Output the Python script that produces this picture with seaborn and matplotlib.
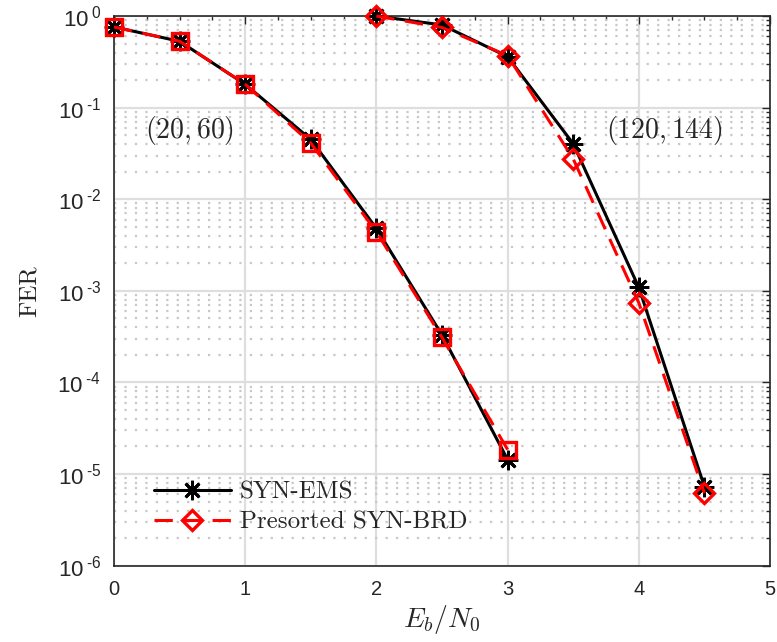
import numpy as np
import pandas as pd
import seaborn as sns
import matplotlib.pyplot as plt
from matplotlib.ticker import FixedLocator, FuncFormatter, NullFormatter
from matplotlib.lines import Line2D

# data
snr_short = [0, 0.5, 1, 1.5, 2, 2.5, 3]
ems_short = [0.76, 0.53, 0.18, 0.045, 0.0048, 3.3e-4, 1.44e-5]
brd_short = [0.76, 0.53, 0.18, 0.041, 0.0044, 3.1e-4, 1.85e-5]

snr_long = [2, 2.5, 3, 3.5, 4, 4.5]
ems_long = [1.0, 0.8, 0.36, 0.0404, 1.09e-3, 7.3e-6]
brd_long = [1.0, 0.75, 0.37, 0.0276, 7.4e-4, 6.2e-6]

sns.set_style("white")
plt.rcParams['mathtext.fontset'] = 'custom'
plt.rcParams['mathtext.rm'] = 'cmr10'
plt.rcParams['mathtext.it'] = 'cmmi10'
plt.rcParams['mathtext.sf'] = 'Liberation Sans'
plt.rcParams['font.family'] = ['Liberation Sans', 'DejaVu Sans']

fig, ax = plt.subplots(figsize=(7.77, 6.42), dpi=100)
fig.subplots_adjust(left=0.1467, right=0.991, bottom=0.1189, top=0.975)

ems_style = dict(color='black', linestyle='-', linewidth=2.2, marker=(8, 2, 0),
                 markersize=14, markeredgewidth=2.0, markeredgecolor='black',
                 clip_on=False, zorder=4)
brd_sq = dict(color='red', linestyle=(0, (6, 3.5)), linewidth=2.2, marker='s',
              markersize=11, markerfacecolor='none', markeredgecolor='red',
              markeredgewidth=2.4, clip_on=False, zorder=5)
brd_dm = dict(brd_sq, marker='D', markersize=10)

sns.lineplot(x=snr_short, y=ems_short, ax=ax, **ems_style)
sns.lineplot(x=snr_short, y=brd_short, ax=ax, **brd_sq)
sns.lineplot(x=snr_long, y=ems_long, ax=ax, **ems_style)
sns.lineplot(x=snr_long, y=brd_long, ax=ax, **brd_dm)

ax.set_yscale('log')
ax.set_xlim(0, 5)
ax.set_ylim(1e-6, 1)

ax.xaxis.set_major_locator(FixedLocator([0, 1, 2, 3, 4, 5]))
ax.xaxis.set_minor_locator(FixedLocator(np.arange(0, 5.01, 0.25)))
ax.yaxis.set_major_locator(FixedLocator([10.0**k for k in range(-6, 1)]))
minors = [m * 10.0**k for k in range(-6, 0) for m in range(2, 10)]
ax.yaxis.set_minor_locator(FixedLocator(minors))


def pow_label(v, p):
    k = int(round(np.log10(v)))
    exp = ('\u2010%d' % -k) if k < 0 else '%d' % k
    return r'$\mathsf{10^{\;' + exp + '}}$'


ax.yaxis.set_major_formatter(FuncFormatter(pow_label))
ax.yaxis.set_minor_formatter(NullFormatter())

ax.grid(which='major', axis='both', color='#dedede', linewidth=1.6, linestyle='-')
ax.grid(which='minor', axis='y', color='#c8c8c8', linewidth=1.6, linestyle=(0, (1, 3.7)))
ax.grid(which='minor', axis='x', visible=False)
ax.set_axisbelow(True)

ax.tick_params(which='both', direction='in', top=True, right=True,
               colors='#262626', width=1.0)
ax.tick_params(which='major', length=6)
ax.tick_params(which='minor', length=3)
ax.tick_params(axis='x', labelsize=14.5, pad=10)
ax.tick_params(axis='y', labelsize=16, pad=9)
for s in ax.spines.values():
    s.set_color('#262626')
    s.set_linewidth(1.2)

ax.set_xlabel(r'$E_b/N_0$', fontsize=20, labelpad=3)
ax.set_ylabel('FER', fontsize=18, family='cmr10', labelpad=12)

ax.text(0.24, 10**-1.25, r'$(20,60)$', fontsize=20, va='center')
ax.text(3.75, 10**-1.25, r'$(120,144)$', fontsize=20, va='center')

handles = [Line2D([], [], **{k: v for k, v in ems_style.items() if k not in ('clip_on', 'zorder')}),
           Line2D([], [], **{k: v for k, v in brd_dm.items() if k not in ('clip_on', 'zorder')})]
ax.legend(handles, ['SYN-EMS', 'Presorted SYN-BRD'], loc='lower left',
          bbox_to_anchor=(0.026, 0.018), frameon=False, handlelength=3.1,
          prop={'family': 'cmr10', 'size': 18}, labelspacing=0.3, handletextpad=0.35)

fig.savefig('out.png', dpi=100)
